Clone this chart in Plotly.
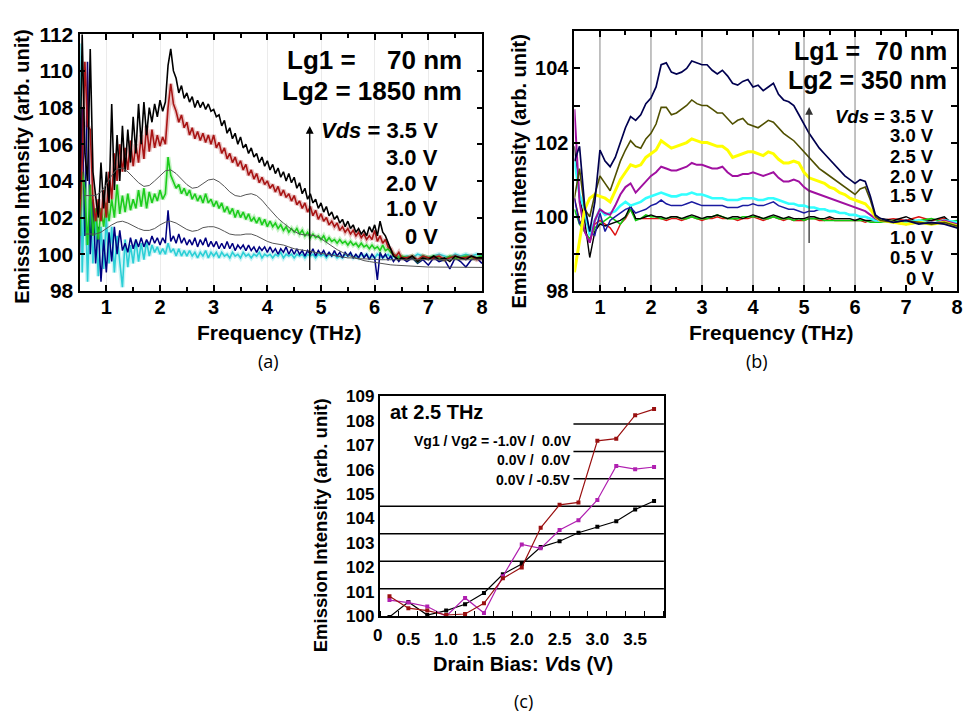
import plotly.graph_objects as go

W, H = 973, 726
BOLD = "Liberation Sans"

# ---------------- (a) Lg2 = 1850 nm ----------------
fa = [round(0.5 + 0.05 * i, 2) for i in range(121)] + [round(6.6 + 0.1 * i, 1) for i in range(15)]

a_35 = [103.0, 112.0, 105.5, 104.0, 111.2, 104.5, 103.2, 102.0, 105.0, 102.5,
        104.5, 102.8, 108.2, 103.5, 106.5, 104.0, 107.0, 104.5, 106.8, 105.0,
        107.5, 105.5, 108.2, 106.0, 108.3, 106.5, 108.0, 107.2, 108.2, 107.5,
        108.4, 107.8, 108.3, 110.3, 111.2, 110.0, 109.6, 108.8, 109.2, 108.5,
        108.8, 108.3, 108.6, 108.0, 108.4, 108.0, 108.3, 107.9, 108.2, 107.8,
        107.9, 107.5, 107.6, 107.0, 107.3, 106.6, 106.9, 106.3, 106.6, 106.0,
        106.4, 105.8, 106.0, 105.5, 105.8, 105.3, 105.5, 105.0, 105.3, 104.8,
        105.1, 104.6, 104.9, 104.4, 104.7, 104.2, 104.5, 104.0, 104.4, 103.9,
        104.2, 103.6, 103.9, 103.3, 103.6, 103.0, 103.3, 102.8, 103.0, 102.5,
        102.8, 102.3, 102.6, 102.1, 102.3, 101.9, 102.1, 101.7, 101.9, 101.5,
        101.8, 101.4, 101.6, 101.2, 101.4, 101.1, 101.3, 101.0, 101.5, 101.2,
        101.6, 101.0, 101.8, 101.2, 101.0, 100.6, 100.2, 99.9, 99.8, 99.7,
        99.8,
        99.7, 99.9, 99.6, 99.8, 99.7, 99.9, 99.7, 99.8, 99.6, 99.9, 99.8, 99.7, 99.9, 99.8, 99.8]

a_30 = [102.0, 105.0, 110.5, 107.0, 106.8, 103.0, 101.8, 103.0, 101.8, 103.5,
        102.0, 104.5, 103.0, 105.5, 104.0, 106.0, 104.5, 105.8, 104.6, 106.2,
        104.8, 106.0, 105.0, 106.5, 105.2, 107.0, 105.6, 106.8, 105.8, 106.5,
        105.9, 106.4, 106.0, 108.0, 109.3, 108.2, 107.8, 107.2, 107.6, 106.9,
        107.2, 106.5, 106.9, 106.3, 106.7, 106.2, 106.6, 106.1, 106.5, 106.0,
        106.5, 105.8, 106.1, 105.5, 105.8, 105.2, 105.5, 105.0, 105.3, 104.8,
        105.1, 104.6, 104.9, 104.3, 104.6, 104.1, 104.4, 103.9, 104.2, 103.8,
        104.0, 103.6, 103.8, 103.4, 103.7, 103.2, 103.5, 103.1, 103.3, 102.9,
        103.2, 102.7, 102.9, 102.5, 102.8, 102.3, 102.6, 102.1, 102.4, 101.9,
        102.2, 101.8, 102.0, 101.6, 101.8, 101.5, 101.7, 101.3, 101.5, 101.2,
        101.4, 101.1, 101.3, 101.0, 101.2, 100.9, 101.1, 100.8, 101.0, 100.8,
        101.3, 100.7, 101.0, 100.6, 100.8, 100.4, 100.3, 100.0, 99.9, 100.1,
        99.8,
        99.8, 99.9, 99.7, 99.9, 99.8, 99.8, 99.9, 99.7, 99.8, 99.9, 99.8, 99.8, 99.9, 99.7, 99.8]

a_20 = [101.0, 104.5, 103.5, 100.5, 103.8, 101.0, 102.5, 100.8, 102.5, 101.5,
        102.8, 101.8, 103.0, 102.0, 103.8, 102.2, 103.2, 102.3, 103.3, 102.4,
        103.0, 102.5, 103.5, 102.6, 103.6, 102.5, 103.4, 102.8, 103.3, 102.9,
        103.5, 103.0, 103.3, 105.3, 104.3, 103.9, 103.6, 103.8, 103.3, 103.6,
        103.2, 103.5, 103.0, 103.3, 102.9, 103.2, 102.8, 103.3, 102.8, 103.0,
        102.6, 102.9, 102.5, 102.8, 102.3, 102.6, 102.2, 102.5, 102.0, 102.4,
        102.0, 102.3, 101.9, 102.2, 101.8, 102.0, 101.7, 102.0, 101.6, 101.9,
        101.5, 101.8, 101.5, 101.7, 101.4, 101.6, 101.3, 101.5, 101.2, 101.4,
        101.2, 101.4, 101.1, 101.3, 101.0, 101.2, 100.9, 101.1, 100.9, 101.0,
        100.8, 101.0, 100.7, 100.9, 100.7, 100.8, 100.6, 100.8, 100.6, 100.7,
        100.5, 100.7, 100.5, 100.6, 100.4, 100.6, 100.4, 100.5, 100.3, 100.5,
        100.3, 100.4, 100.2, 100.5, 100.2, 100.3, 100.1, 100.0, 99.9, 99.8,
        99.9,
        99.8, 99.9, 99.6, 99.9, 99.8, 99.9, 99.8, 99.7, 99.9, 99.8, 99.8, 99.9, 99.8, 99.8, 99.9]

a_10 = [100.0, 108.0, 101.0, 110.5, 100.0, 103.0, 99.5, 101.5, 98.5, 100.8,
        99.0, 101.2, 99.6, 101.5, 100.0, 101.3, 100.2, 100.6, 100.1, 100.9,
        100.3, 100.8, 100.4, 100.9, 100.4, 100.8, 100.5, 101.0, 100.6, 100.9,
        100.5, 100.9, 100.6, 102.4, 100.7, 101.0, 100.6, 101.1, 100.6, 100.9,
        100.5, 100.8, 100.5, 100.9, 100.4, 100.8, 100.5, 100.9, 100.4, 100.7,
        100.4, 100.7, 100.3, 100.6, 100.3, 100.7, 100.3, 100.6, 100.2, 100.5,
        100.3, 100.5, 100.2, 100.5, 100.2, 100.4, 100.1, 100.4, 100.2, 100.4,
        100.1, 100.4, 100.1, 100.3, 100.0, 100.3, 100.1, 100.4, 100.0, 100.3,
        100.0, 100.3, 100.0, 100.2, 99.9, 100.2, 100.0, 100.3, 99.9, 100.2,
        100.0, 100.2, 99.9, 100.1, 99.9, 100.2, 99.9, 100.1, 99.8, 100.1,
        99.9, 100.1, 99.8, 100.0, 99.8, 100.1, 99.8, 100.0, 99.7, 100.0,
        99.8, 98.6, 100.1, 99.8, 100.0, 99.7, 99.9, 99.6, 99.8, 99.6,
        99.8,
        99.6, 99.8, 99.5, 99.7, 99.4, 99.8, 99.6, 99.7, 99.2, 99.8, 99.6, 99.3, 99.7, 99.8, 99.5]

a_00 = [111.5, 99.0, 104.0, 98.5, 103.0, 99.5, 102.0, 98.8, 101.5, 99.2,
        102.0, 99.5, 101.5, 99.0, 101.0, 99.5, 98.2, 100.8, 99.3, 100.5,
        99.5, 100.8, 99.6, 100.6, 99.7, 100.7, 99.9, 100.5, 100.1, 100.4,
        100.0, 100.3, 100.0, 100.6, 100.1, 100.3, 99.9, 100.3, 99.9, 100.2,
        99.9, 100.2, 99.9, 100.1, 99.8, 100.1, 99.9, 100.2, 99.8, 100.1,
        99.9, 100.1, 99.8, 100.1, 99.9, 100.0, 99.8, 100.1, 99.9, 100.0,
        99.8, 100.1, 99.9, 100.0, 99.8, 100.0, 99.9, 100.1, 99.8, 100.0,
        99.9, 100.0, 99.8, 100.0, 99.9, 100.1, 99.8, 100.0, 99.9, 100.0,
        99.8, 100.0, 99.9, 100.0, 99.8, 100.0, 99.9, 100.0, 99.8, 100.0,
        99.9, 100.0, 99.8, 100.0, 99.9, 100.0, 99.8, 99.9, 99.8, 100.0,
        99.9, 100.0, 99.8, 99.9, 99.8, 100.0, 99.9, 100.0, 99.8, 99.9,
        99.8, 100.0, 99.9, 99.8, 99.9, 100.0, 99.8, 99.9, 99.8, 99.9,
        99.8,
        99.9, 99.8, 100.0, 99.9, 99.8, 99.9, 100.0, 99.9, 99.8, 100.0, 99.9, 100.0, 99.9, 100.0, 99.9]

fit_f = [round(0.6 + 0.1 * i, 1) for i in range(75)]
fit_hi = [103.2, 103.2, 103.2, 103.4, 103.8, 104.3, 104.65, 104.7, 104.5, 104.2,
          103.9, 103.7, 103.75, 104.0, 104.3, 104.55, 104.6, 104.4, 104.1, 103.8,
          103.6, 103.65, 103.85, 104.05, 104.1, 103.95, 103.7, 103.4, 103.2, 103.15,
          103.25, 103.3, 103.2, 102.95, 102.6, 102.25, 101.95, 101.7, 101.45, 101.25,
          101.1, 101.05, 101.05, 101.0, 100.85, 100.65, 100.45, 100.25, 100.1, 99.95,
          99.85, 99.75, 99.65, 99.6, 99.55, 99.5, 99.45, 99.42, 99.4, 99.38,
          99.35, 99.33, 99.32, 99.3, 99.3, 99.3, 99.3, 99.29, 99.29, 99.28,
          99.28, 99.28, 99.28, 99.28, 99.28]
fit_lo = [101.1, 101.1, 101.1, 101.2, 101.4, 101.6, 101.75, 101.8, 101.7, 101.55,
          101.4, 101.3, 101.3, 101.4, 101.6, 101.75, 101.8, 101.7, 101.5, 101.35,
          101.25, 101.3, 101.45, 101.5, 101.5, 101.4, 101.25, 101.1, 101.05, 101.05,
          101.1, 101.1, 101.0, 100.85, 100.7, 100.6, 100.55, 100.5, 100.4, 100.3,
          100.25, 100.2, 100.15, 100.1, 100.05, 100.0, 99.95, 99.9, 99.85, 99.8,
          99.8, 99.75, 99.75, 99.72, 99.72, 99.7, 99.7, 99.7, 99.7, 99.7,
          99.7, 99.7, 99.7, 99.7, 99.7, 99.7, 99.7, 99.7, 99.7, 99.7,
          99.7, 99.7, 99.7, 99.7, 99.7]

# ---------------- (b) Lg2 = 350 nm ----------------
fb = [round(0.5 + 0.1 * i, 1) for i in range(61)] + [6.75, 7.0, 7.25, 7.5, 7.75, 8.0]

b_35 = [101.5, 101.9, 100.3, 99.6, 100.4, 101.8, 101.5, 101.35, 101.6, 102.0,
        102.4, 102.7, 102.6, 102.75, 103.05, 103.2, 103.5, 104.1, 104.15, 103.9,
        103.85, 103.9, 104.0, 104.2, 104.15, 104.1, 104.1, 103.95, 103.85, 103.95,
        103.8, 103.6, 103.55, 103.65, 103.7, 103.5, 103.55, 103.4, 103.5, 103.6,
        103.3, 103.15, 103.1, 103.0, 102.75, 102.5, 102.25, 102.05, 101.85, 101.7,
        101.55, 101.4, 101.25, 101.1, 101.0, 100.9, 101.0, 100.95, 100.55, 100.05,
        99.95,
        99.85, 99.9, 99.8, 99.85, 99.8, 99.7]
b_30 = [100.5, 101.3, 100.2, 100.0, 100.6, 101.1, 100.9, 100.7, 101.1, 101.5,
        101.8, 102.05, 101.9, 101.85, 102.1, 102.25, 102.5, 102.95, 102.95, 102.75,
        102.8, 102.9, 103.0, 103.15, 103.05, 103.0, 103.0, 102.9, 102.8, 102.8,
        102.65, 102.5, 102.6, 102.65, 102.5, 102.45, 102.4, 102.5, 102.6, 102.55,
        102.4, 102.25, 102.15, 102.05, 101.9, 101.75, 101.6, 101.45, 101.3, 101.2,
        101.1, 101.0, 100.9, 100.8, 100.7, 100.6, 100.75, 100.8, 100.45, 100.0,
        99.9,
        99.85, 99.9, 99.85, 99.8, 99.85, 99.75]
b_25 = [98.5, 99.4, 100.2, 100.5, 100.6, 100.55, 100.5, 100.4, 100.7, 101.0,
        101.2, 101.4, 101.35, 101.4, 101.6, 101.7, 101.8, 102.05, 101.95, 101.85,
        101.9, 101.95, 102.0, 102.1, 102.05, 102.0, 102.0, 101.95, 101.9, 101.9,
        101.8, 101.6, 101.65, 101.7, 101.75, 101.75, 101.7, 101.65, 101.75, 101.7,
        101.55, 101.45, 101.45, 101.5, 101.45, 101.2, 101.05, 101.0, 100.95, 100.9,
        100.8, 100.75, 100.65, 100.6, 100.5, 100.45, 100.4, 100.35, 100.2, 100.0,
        99.9,
        99.85, 99.8, 99.85, 99.8, 99.85, 99.75]
b_20 = [102.9, 100.4, 99.6, 99.3, 99.9, 100.2, 100.1, 100.05, 100.3, 100.6,
        100.8, 100.9, 100.65, 100.8, 100.95, 101.1, 101.2, 101.35, 101.3, 101.25,
        101.25, 101.3, 101.35, 101.45, 101.4, 101.4, 101.35, 101.3, 101.3, 101.35,
        101.2, 101.1, 101.1, 101.15, 101.15, 101.2, 101.15, 101.1, 101.15, 101.2,
        101.05, 100.95, 100.95, 101.0, 100.95, 100.8, 100.7, 100.65, 100.6, 100.55,
        100.5, 100.45, 100.4, 100.35, 100.3, 100.25, 100.2, 100.15, 100.05, 99.95,
        99.9,
        99.85, 99.8, 99.85, 99.8, 99.9, 99.8]
b_15 = [101.5, 100.6, 100.2, 99.5, 99.9, 100.2, 100.05, 100.1, 100.15, 100.3,
        100.4, 100.3, 100.35, 100.4, 100.5, 100.55, 100.6, 100.65, 100.6, 100.55,
        100.55, 100.6, 100.6, 100.65, 100.6, 100.6, 100.55, 100.5, 100.5, 100.5,
        100.45, 100.45, 100.45, 100.5, 100.5, 100.5, 100.45, 100.45, 100.5, 100.5,
        100.45, 100.4, 100.35, 100.35, 100.3, 100.3, 100.25, 100.25, 100.2, 100.2,
        100.15, 100.15, 100.1, 100.1, 100.05, 100.05, 100.0, 100.0, 99.95, 99.9,
        99.9,
        99.85, 99.85, 99.9, 99.8, 99.9, 99.85]
b_10 = [100.5, 99.8, 100.0, 99.6, 99.5, 100.1, 99.6, 99.9, 100.0, 100.1,
        100.2, 100.25, 100.1, 100.15, 100.2, 100.3, 100.35, 100.45, 100.35, 100.3,
        100.3, 100.3, 100.35, 100.4, 100.35, 100.3, 100.3, 100.3, 100.3, 100.3,
        100.25, 100.25, 100.25, 100.3, 100.3, 100.35, 100.3, 100.3, 100.35, 100.4,
        100.3, 100.25, 100.2, 100.2, 100.15, 100.1, 100.15, 100.15, 100.2, 100.2,
        100.15, 100.15, 100.1, 100.1, 100.05, 100.05, 100.0, 100.0, 99.95, 99.9,
        99.9,
        99.85, 99.9, 99.85, 99.8, 99.9, 99.8]
b_05 = [101.9, 100.5, 99.9, 98.9, 99.6, 99.8, 99.75, 99.8, 99.85, 99.9,
        100.0, 100.3, 99.95, 99.95, 100.0, 100.05, 100.0, 100.0, 99.95, 100.0,
        100.0, 99.95, 100.0, 100.05, 100.0, 99.95, 100.0, 100.0, 100.05, 100.0,
        99.95, 100.0, 100.0, 99.95, 100.0, 100.05, 100.0, 99.95, 100.0, 100.05,
        100.0, 99.95, 100.0, 99.95, 99.95, 99.95, 100.0, 100.0, 99.95, 99.95,
        100.0, 99.95, 99.95, 99.95, 99.95, 99.9, 99.95, 99.9, 99.9, 99.9,
        99.95,
        99.9, 100.0, 99.85, 99.9, 100.0, 99.7]
b_00 = [100.5, 99.9, 99.6, 99.3, 99.8, 99.9, 99.8, 99.7, 99.5, 99.8,
        99.95, 100.2, 99.95, 99.95, 99.95, 99.95, 99.95, 99.95, 99.9, 99.95,
        99.95, 99.9, 99.95, 100.0, 99.95, 99.9, 99.95, 99.95, 100.0, 99.95,
        99.95, 99.95, 99.9, 99.95, 99.95, 100.0, 99.95, 99.9, 99.95, 100.0,
        99.95, 99.9, 99.95, 99.9, 99.9, 99.9, 99.95, 99.95, 99.9, 99.9,
        99.95, 99.9, 99.9, 99.9, 99.9, 99.9, 99.9, 99.85, 99.9, 99.9,
        99.9,
        99.95, 99.9, 100.0, 99.9, 99.95, 99.8]
b_00g = [100.2, 99.8, 99.6, 99.4, 99.7, 99.8, 99.9, 100.0, 99.9, 99.8,
         100.0, 100.2, 99.9, 99.95, 100.05, 100.0, 100.0, 99.95, 99.95, 100.0,
         100.0, 99.95, 99.95, 100.0, 99.95, 99.95, 99.95, 100.0, 100.05, 100.0,
         99.95, 99.95, 99.95, 100.0, 100.0, 100.0, 100.0, 99.95, 99.95, 100.0,
         99.95, 99.95, 99.95, 99.9, 99.95, 99.9, 99.95, 99.95, 99.95, 99.9,
         99.9, 99.9, 99.9, 99.9, 99.9, 99.9, 99.9, 99.9, 99.85, 99.85,
         99.85,
         99.9, 99.85, 99.9, 99.95, 99.85, 99.9]

# ---------------- (c) at 2.5 THz ----------------
vds = [0.25, 0.5, 0.75, 1.0, 1.25, 1.5, 1.75, 2.0, 2.25, 2.5, 2.75, 3.0, 3.25, 3.5, 3.75]
c_m10_00 = [100.82, 100.33, 100.23, 100.05, 100.09, 100.53, 101.55, 102.0, 103.62, 104.56,
            104.66, 107.18, 107.27, 108.23, 108.48]
c_00_00 = [100.66, 100.56, 100.40, 100.0, 100.75, 100.13, 101.64, 102.94, 102.78, 103.53,
           103.93, 104.76, 106.15, 106.02, 106.11]
c_00_m05 = [99.97, 100.58, 100.05, 100.23, 100.49, 100.95, 101.72, 102.14, 102.83, 103.07,
            103.42, 103.66, 103.89, 104.37, 104.72]
c_tick_vals = [0.5, 1.0, 1.5, 2.0, 2.5, 3.0, 3.5]
c_tick_text = ["0.5", "1.0", "1.5", "2.0", "2.5", "3.0", "3.5"]

for s in (a_35, a_30, a_20, a_10, a_00):
    assert len(s) == len(fa), len(s)
for s in (fit_hi, fit_lo):
    assert len(s) == len(fit_f), len(s)
for s in (b_35, b_30, b_25, b_20, b_15, b_10, b_05, b_00, b_00g):
    assert len(s) == len(fb), len(s)

fig = go.Figure()

# (a) traces
a_series = [(a_00, "#2ccfd6", 1.6, True), (a_10, "#000080", 1.5, False),
            (a_20, "#1ccc1c", 1.6, True), (a_30, "#a81414", 1.6, True),
            (a_35, "#000000", 1.6, False)]
for ys, col, w, glow in a_series:
    if glow:
        fig.add_trace(go.Scatter(x=fa, y=ys, mode="lines", line=dict(color=col, width=4.5),
                                 opacity=0.25, xaxis="x", yaxis="y", hoverinfo="skip"))
    fig.add_trace(go.Scatter(x=fa, y=ys, mode="lines", line=dict(color=col, width=w),
                             xaxis="x", yaxis="y"))
for ys in (fit_hi, fit_lo):
    fig.add_trace(go.Scatter(x=fit_f, y=ys, mode="lines", line=dict(color="#555555", width=1),
                             xaxis="x", yaxis="y"))

# (b) traces
b_series = [(b_00, "#dd1111", 1.4), (b_00g, "#11cc11", 1.6), (b_05, "#000000", 1.4),
            (b_10, "#1a1aa0", 1.5), (b_15, "#33ffff", 2.6), (b_20, "#a010a0", 2.0),
            (b_25, "#ffff00", 3.0), (b_30, "#505000", 1.6), (b_35, "#000050", 1.7)]
for ys, col, w in b_series:
    fig.add_trace(go.Scatter(x=fb, y=ys, mode="lines", line=dict(color=col, width=w),
                             xaxis="x2", yaxis="y2"))

# (c) traces
for ys, col in ((c_00_m05, "#000000"), (c_00_00, "#b020b0"), (c_m10_00, "#9a1010")):
    fig.add_trace(go.Scatter(x=vds, y=ys, mode="lines+markers",
                             line=dict(color=col, width=1.2),
                             marker=dict(color=col, size=4, symbol="square"),
                             xaxis="x3", yaxis="y3"))


def ann(text, x, y, size, xanchor="center", yanchor="middle", angle=0, family=BOLD, bold=True):
    t = "<b>%s</b>" % text if bold else text
    return dict(text=t, x=x / W, y=1 - y / H, xref="paper", yref="paper", showarrow=False,
                xanchor=xanchor, yanchor=yanchor, textangle=angle,
                font=dict(family=family, size=size, color="black"))


NB = "\u00a0"
anns = []
# (a) texts
anns.append(ann("Lg1 =", 287, 50, 26, xanchor="left"))
anns.append(ann("70 nm", 467, 50, 26, xanchor="right"))
anns.append(ann("Lg2 = 1850 nm", 467, 82, 26, xanchor="right"))
for txt, yy in (("<i>Vds</i> = 3.5 V", 122), ("3.0 V", 150), ("2.0 V", 177), ("1.0 V", 203), ("0 V", 232)):
    anns.append(ann(txt, 443, yy, 22, xanchor="right"))
anns.append(ann("Emission Intensity (arb. unit)", 22, 160, 20, angle=-90))
anns.append(ann("Frequency (THz)", 281, 331, 21))
anns.append(ann("(a)", 270, 360, 18, family="Open Sans", bold=False))
anns.append(dict(x=4.79, y=107.0, ax=4.79, ay=99.06, xref="x", yref="y", axref="x", ayref="y",
                 text="", showarrow=True, arrowhead=2, arrowsize=1.2, arrowwidth=1.3, arrowcolor="black"))
# (b) texts
anns.append(ann("Lg1 =", 797, 40, 25, xanchor="left"))
anns.append(ann("70 nm", 955, 40, 25, xanchor="right"))
anns.append(ann("Lg2 = 350 nm", 955, 70, 25, xanchor="right"))
for txt, yy in (("<i>Vds</i> = 3.5 V", 108), ("3.0 V", 128), ("2.5 V", 149), ("2.0 V", 170),
                ("1.5 V", 190), ("1.0 V", 233), ("0.5 V", 254), ("0 V", 275)):
    anns.append(ann(txt, 942, yy, 18.5, xanchor="right"))
anns.append(ann("Emission Intensity (arb. unit)", 522, 165, 20, angle=-90))
anns.append(ann("Frequency (THz)", 776, 331, 21))
anns.append(ann("(b)", 762, 360, 18, family="Open Sans", bold=False))
anns.append(dict(x=5.1, y=102.96, ax=5.1, ay=99.25, xref="x2", yref="y2", axref="x2", ayref="y2",
                 text="", showarrow=True, arrowhead=2, arrowsize=1.2, arrowwidth=1.3, arrowcolor="#333333"))
# (c) texts
anns.append(ann("at 2.5 THz", 390, 413, 20, xanchor="left"))
anns.append(ann("Vg1 / Vg2 = -1.0V /" + NB + NB + "0.0V", 577, 443, 14, xanchor="right"))
anns.append(ann("0.0V /" + NB + NB + "0.0V", 577, 463, 14, xanchor="right"))
anns.append(ann("0.0V / -0.5V", 577, 483, 14, xanchor="right"))
anns.append(ann("Emission Intensity (arb. unit)", 322, 530, 18.5, angle=-90))
anns.append(ann("Drain Bias: <i>V</i>ds (V)", 526, 673, 20))
anns.append(ann("(c)", 527, 712, 18, family="Open Sans", bold=False))
anns.append(ann("0", 380, 644, 17))

shapes = []
# (b) vertical grid lines
for g in [1, 2, 3, 4, 5, 6]:
    shapes.append(dict(type="line", xref="x2", yref="y2 domain", x0=g, x1=g, y0=0, y1=1,
                       line=dict(color="#9a9a9a", width=1.2), layer="below"))
# (c) horizontal rules (8 equal bands)
c_left = (577 - 382) / (668 - 382)
for k in range(1, 8):
    shapes.append(dict(type="line", xref="x3 domain", yref="y3 domain",
                       x0=0 if k <= 4 else c_left, x1=1, y0=k / 8, y1=k / 8,
                       line=dict(color="black", width=1.5), layer="below"))

tf_a = dict(family=BOLD, size=20, color="black", weight="bold")
tf_ay = dict(family=BOLD, size=21, color="black", weight="bold")
tf_b = dict(family=BOLD, size=20, color="black", weight="bold")
tf_c = dict(family=BOLD, size=17, color="black", weight="bold")

common = dict(showline=True, linecolor="black", zeroline=False, ticks="inside",
              tickcolor="black", mirror="allticks")

fig.update_layout(
    width=W, height=H, margin=dict(l=0, r=0, t=0, b=0), autosize=False,
    paper_bgcolor="white", plot_bgcolor="white", showlegend=False,
    xaxis=dict(domain=[80 / W, 485 / W], range=[0.5, 8], anchor="y", tick0=0, dtick=1,
               ticklen=6, tickwidth=1.5, linewidth=2, showgrid=True, gridcolor="#ebebeb",
               ticklabelstandoff=-3,
               minor=dict(dtick=0.5, tick0=0, ticks="inside", ticklen=4, tickcolor="black", showgrid=False),
               tickfont=tf_a, **common),
    yaxis=dict(domain=[1 - 288 / H, 1 - 23 / H], range=[98, 112], anchor="x", tick0=98, dtick=2,
               ticklen=5, tickwidth=1.5, linewidth=2, showgrid=False, tickfont=tf_ay, **common),
    xaxis2=dict(domain=[578 / W, 963 / W], range=[0.5, 8], anchor="y2", tick0=0, dtick=1,
                ticklen=6, tickwidth=1.5, linewidth=2, showgrid=False, ticklabelstandoff=-3,
                minor=dict(dtick=0.5, tick0=0, ticks="inside", ticklen=4, tickcolor="black", showgrid=False),
                tickfont=tf_b, **common),
    yaxis2=dict(domain=[1 - 288 / H, 1 - 20 / H], range=[98, 105], anchor="x2", tick0=98, dtick=2,
                ticklen=6, tickwidth=1.5, linewidth=2, showgrid=False,
                minor=dict(dtick=1, tick0=98, ticks="inside", ticklen=6, tickcolor="black", showgrid=False),
                tickfont=tf_b, **common),
    xaxis3=dict(domain=[382 / W, 668 / W], range=[0.12, 3.88], anchor="y3",
                tickmode="array", tickvals=c_tick_vals, ticktext=c_tick_text,
                showline=True, linecolor="black", linewidth=1.5, mirror=True, zeroline=False,
                ticks="", showgrid=False, ticklabelstandoff=7,
                minor=dict(tickmode="linear", tick0=0.125, dtick=0.25, ticks="inside", ticklen=5,
                           tickcolor="black", showgrid=False),
                tickfont=tf_c),
    yaxis3=dict(domain=[1 - 624 / H, 1 - 397 / H], range=[100, 109], anchor="x3", tick0=100, dtick=1,
                showline=True, linecolor="black", linewidth=1.5, mirror=True, zeroline=False,
                ticks="", showgrid=False, tickfont=tf_c),
    annotations=anns, shapes=shapes,
)

fig.write_html("out.html")
